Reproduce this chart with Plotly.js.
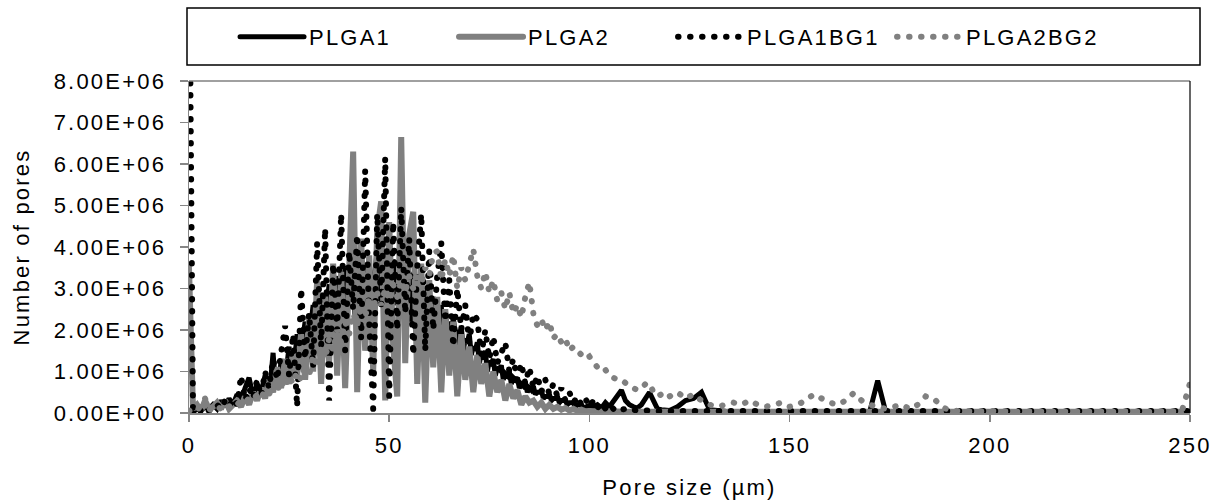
<!DOCTYPE html>
<html>
<head>
<meta charset="utf-8">
<script src="https://cdn.plot.ly/plotly-3.0.1.min.js"></script>
<style>
html,body{margin:0;padding:0;background:#fff;}
#chart{width:1216px;height:500px;}
path.js-line{stroke-linecap:round;}
svg text{letter-spacing:2.2px;}
</style>
</head>
<body>
<div id="chart"></div>
<script>
// Pore size (µm) for PLGA2, PLGA1BG1, PLGA2BG2
var poreSize = [
0,1,2,3,4,5,6,7,8,9,10,11,12,13,14,15,16,17,18,19,
20,21,22,23,24,25,26,27,28,29,30,31,32,33,34,35,36,37,38,39,
40,41,42,43,44,45,46,47,48,49,50,51,52,53,54,55,56,57,58,59,
60,61,62,63,64,65,66,67,68,69,70,71,72,73,74,75,76,77,78,79,
80,81,82,83,84,85,86,87,88,89,90,91,92,93,94,95,96,97,98,99,
100,101,102,103,104,105,106,107,108,109,110,111,112,113,114,115,116,117,118,119,120,
122,124,126,128,130,132,134,136,138,140,142,144,146,148,150,152,154,156,158,160,
162,164,166,168,170,172,174,176,178,180,182,184,186,188,190,192,194,196,198,200,
202,204,206,208,210,212,214,216,218,220,222,224,226,228,230,232,234,236,238,240,
242,244,246,248,250];

// Pore size (µm) for PLGA1 (finer sampling in the main peak)
var poreSizePlga1 = [
0,1,2,3,4,5,6,7,8,9,10,11,12,13,14,15,16,17,18,19,20,
20.5,21,21.5,22,22.5,23,23.5,24,24.5,25,
25.5,26,26.5,27,27.5,28,28.5,29,29.5,30,
30.5,31,31.5,32,32.5,33,33.5,34,34.5,35,
35.5,36,36.5,37,37.5,38,38.5,39,39.5,40,
40.5,41,41.5,42,42.5,43,43.5,44,44.5,45,
45.5,46,46.5,47,47.5,48,48.5,49,49.5,50,
50.5,51,51.5,52,52.5,53,53.5,54,54.5,55,
55.5,56,56.5,57,57.5,58,58.5,59,59.5,60,
60.5,61,61.5,62,62.5,63,63.5,64,64.5,65,
65.5,66,66.5,67,67.5,68,68.5,69,69.5,70,
70.5,71,71.5,72,72.5,73,73.5,74,74.5,75,
75.5,76,76.5,77,77.5,78,78.5,79,79.5,80,
80.5,81,81.5,82,82.5,83,83.5,84,84.5,85,
85.5,86,86.5,87,87.5,88,88.5,89,89.5,90,
90.5,91,91.5,92,92.5,93,93.5,94,94.5,95,
95.5,96,96.5,97,97.5,98,98.5,99,99.5,100,
101,102,103,104,105,106,107,108,109,110,111,112,113,114,115,116,117,118,119,120,
122,124,126,128,130,132,134,136,138,140,142,144,146,148,150,152,154,156,158,160,
162,164,166,168,170,172,174,176,178,180,182,184,186,188,190,192,194,196,198,200,
202,204,206,208,210,212,214,216,218,220,222,224,226,228,230,232,234,236,238,240,
242,244,246,248,250];

// Number of pores (millions)
var plga1 = [
0.05,0.02,0.1,0.05,0.15,0.1,0.2,0.1,0.3,0.15,0.35,0.2,0.45,0.3,0.6,0.85,0.4,0.7,0.5,0.9,0.7,
0.9,1.45,0.8,1.1,0.7,1.3,0.9,1.0,1.2,1.6,
0.9,1.2,1.4,1.9,1.1,1.5,1.8,2.2,1.3,1.7,
2.1,2.6,1.5,2.0,2.4,2.9,1.8,2.3,2.7,3.1,
2.0,2.5,3.0,3.3,2.1,2.6,3.2,3.5,2.4,2.8,
3.3,3.6,2.2,2.9,3.4,3.8,2.5,3.0,3.5,3.7,
2.6,3.1,3.6,3.9,2.7,3.2,3.5,3.8,2.4,3.0,
3.4,3.7,2.6,3.1,3.3,3.5,2.3,2.9,3.1,3.4,
2.2,2.8,3.0,3.2,2.0,2.6,2.7,3.0,2.1,2.6,
2.3,2.8,1.9,2.4,2.2,2.6,1.8,2.5,2.0,2.2,
1.7,2.3,1.9,2.0,1.6,2.1,1.5,1.8,1.7,1.9,
1.4,1.6,1.5,1.7,1.2,1.4,1.3,1.5,1.0,1.25,
1.2,1.3,0.9,1.1,1.05,1.15,0.8,0.95,0.9,1.0,
0.7,0.85,0.8,0.85,0.6,0.7,0.65,0.75,0.5,0.6,
0.55,0.65,0.45,0.5,0.5,0.55,0.35,0.4,0.4,0.45,
0.3,0.35,0.35,0.4,0.25,0.3,0.3,0.3,0.2,0.25,
0.25,0.25,0.15,0.2,0.2,0.2,0.12,0.15,0.15,0.18,
0.15,0.2,0.12,0.25,0.15,0.3,0.45,0.55,0.3,0.2,0.15,0.12,0.2,0.35,0.5,0.3,0.1,0.08,0.06,0.06,
0.15,0.3,0.35,0.5,0.08,0.05,0.04,0.03,0.03,0.03,
0.02,0.02,0.03,0.02,0.02,0.02,0.02,0.02,0.02,0.02,
0.02,0.02,0.02,0.02,0.03,0.78,0.03,0.02,0.02,0.02,
0.02,0.02,0.02,0.02,0.02,0.02,0.02,0.02,0.02,0.02,
0.02,0.02,0.02,0.02,0.02,0.02,0.02,0.02,0.02,0.02,
0.02,0.02,0.02,0.02,0.02,0.02,0.02,0.02,0.02,0.02,
0.02,0.02,0.02,0.02,0.02];

var plga2 = [
3.5,0.1,0.2,0.05,0.3,0.1,0.15,0.25,0.1,0.3,
0.1,0.2,0.3,0.15,0.4,0.2,0.5,0.3,0.6,0.35,
0.8,0.5,1.1,0.6,1.3,0.7,1.5,0.9,1.9,0.8,
2.3,1.0,3.2,0.7,2.8,1.2,3.6,0.9,3.4,0.6,
3.9,6.3,0.5,4.2,1.5,3.8,1.0,4.4,5.1,0.3,
4.6,1.6,0.4,6.65,1.2,4.3,4.85,0.7,3.6,0.25,
3.2,1.1,2.8,0.5,2.5,0.9,2.2,0.4,1.9,0.8,
1.6,0.5,1.4,0.7,1.2,0.4,1.0,0.5,0.8,0.3,
0.7,0.35,0.55,0.2,0.4,0.25,0.3,0.15,0.25,0.1,
0.2,0.1,0.15,0.08,0.12,0.06,0.1,0.05,0.08,0.04,
0.05,0.04,0.03,0.04,0.03,0.04,0.03,0.04,0.03,0.03,
0.03,0.03,0.03,0.03,0.03,0.03,0.03,0.03,0.03,0.03,
0.03,
0.03,0.03,0.03,0.03,0.03,0.03,0.03,0.03,0.03,0.03,
0.03,0.03,0.03,0.03,0.03,0.03,0.03,0.03,0.03,0.03,
0.03,0.03,0.03,0.03,0.03,0.03,0.03,0.03,0.03,0.03,
0.03,0.03,0.03,0.03,0.03,0.03,0.03,0.03,0.03,0.03,
0.03,0.03,0.03,0.03,0.03,0.03,0.03,0.03,0.03,0.03,
0.03,0.03,0.03,0.03,0.03,0.03,0.03,0.03,0.03,0.03,
0.03,0.03,0.03,0.03,0.03];

var plga1bg1 = [
12,0.05,0.1,0.05,0.15,0.05,0.1,0.2,0.1,0.3,
0.15,0.35,0.2,0.9,0.3,0.6,0.35,0.8,0.4,1.0,
0.6,1.3,0.8,1.6,2.1,0.9,1.9,0.15,3.0,1.3,
2.4,1.1,4.1,1.6,4.45,0.3,3.6,2.0,4.8,1.5,
3.9,2.5,4.3,1.8,5.85,2.2,0.1,4.8,2.6,6.15,
0.4,4.6,2.0,4.95,2.4,4.2,1.4,3.5,4.8,1.5,
3.9,2.0,3.3,4.1,2.2,3.2,1.6,3.0,2.0,2.6,
1.7,2.4,2.25,1.4,2.0,1.3,1.85,1.2,1.5,1.7,
1.0,1.3,0.8,1.2,0.7,1.1,0.6,0.9,0.5,0.8,
0.45,0.7,0.4,0.6,0.3,0.5,0.25,0.4,0.2,0.35,
0.15,0.3,0.12,0.25,0.1,0.2,0.1,0.15,0.08,0.1,
0.06,0.08,0.05,0.06,0.05,0.06,0.05,0.05,0.05,0.05,
0.05,
0.08,0.08,0.08,0.08,0.08,0.05,0.05,0.05,0.05,0.05,
0.05,0.05,0.05,0.05,0.05,0.05,0.05,0.05,0.05,0.05,
0.05,0.05,0.05,0.05,0.05,0.05,0.05,0.05,0.05,0.05,
0.05,0.05,0.05,0.05,0.05,0.05,0.05,0.05,0.05,0.05,
0.05,0.05,0.05,0.05,0.05,0.05,0.05,0.05,0.05,0.05,
0.05,0.05,0.05,0.05,0.05,0.05,0.05,0.05,0.05,0.05,
0.05,0.05,0.05,0.05,0.05];

var plga2bg2 = [
0.05,0.1,0.05,0.2,0.35,0.1,0.05,0.15,0.1,0.2,
0.15,0.25,0.2,0.3,0.25,0.35,0.3,0.45,0.35,0.55,
0.45,0.7,0.5,0.8,0.6,0.9,0.7,1.0,0.8,1.2,
0.9,1.4,1.1,1.6,1.3,1.8,1.5,2.0,1.7,2.2,
1.9,2.4,2.1,2.6,2.3,2.8,2.5,2.9,2.6,3.0,
2.7,3.1,2.8,3.2,2.9,3.3,3.0,3.4,3.1,3.5,
3.3,3.85,3.9,3.2,3.7,3.3,3.8,3.0,3.5,3.2,
3.6,3.95,3.3,3.0,3.4,2.9,3.2,2.7,2.9,2.5,
2.9,2.4,2.6,2.3,2.8,3.15,2.4,2.1,2.25,2.0,
2.2,1.8,1.9,1.7,1.8,1.5,1.6,1.5,1.4,1.3,
1.36,1.2,1.1,1.0,1.04,0.9,0.85,0.8,0.8,0.7,
0.65,0.6,0.55,0.6,0.7,0.72,0.5,0.4,0.45,0.35,
0.4,
0.5,0.35,0.45,0.3,0.2,0.15,0.2,0.25,0.2,0.3,
0.2,0.15,0.2,0.25,0.15,0.2,0.3,0.45,0.35,0.25,
0.2,0.3,0.48,0.3,0.2,0.15,0.1,0.15,0.2,0.1,
0.2,0.4,0.35,0.15,0.06,0.05,0.04,0.05,0.04,0.05,
0.04,0.03,0.04,0.03,0.04,0.03,0.04,0.03,0.04,0.03,
0.04,0.03,0.04,0.03,0.04,0.03,0.04,0.03,0.04,0.03,
0.04,0.03,0.04,0.05,0.72];

var seriesNames = ['PLGA1','PLGA2','PLGA1BG1','PLGA2BG2'];
var yTickVals = [0,1,2,3,4,5,6,7,8];
var yTickText = ['0.00E+00','1.00E+06','2.00E+06','3.00E+06','4.00E+06','5.00E+06','6.00E+06','7.00E+06','8.00E+06'];
var xTickVals = [0,50,100,150,200,250];

var M = 1e6;
function scale(a){ return a.map(function(v){ return v*M; }); }

var FONT = 'Liberation Sans, Arial, sans-serif';
var traces = [
  {x: poreSizePlga1, y: scale(plga1), name: seriesNames[0], mode:'lines',
   line:{color:'#000000', width:5}},
  {x: poreSize, y: scale(plga2), name: seriesNames[1], mode:'lines',
   line:{color:'#808080', width:6}},
  {x: poreSize, y: scale(plga1bg1), name: seriesNames[2], mode:'lines',
   line:{color:'#000000', width:6, dash:'0.5px,11.5px'}},
  {x: poreSize, y: scale(plga2bg2), name: seriesNames[3], mode:'lines',
   line:{color:'#808080', width:6, dash:'0.5px,11.5px'}}
];

var layout = {
  width:1216, height:500,
  margin:{l:189, r:26, t:81, b:87, pad:0, autoexpand:false},
  paper_bgcolor:'#ffffff', plot_bgcolor:'#ffffff',
  font:{family:FONT, size:22, color:'#000000'},
  showlegend:true,
  legend:{orientation:'h', x:0.046, xanchor:'left', y:1.1325, yanchor:'middle',
          font:{family:FONT, size:22, color:'#000000'},
          entrywidth:140, entrywidthmode:'pixels', itemwidth:64,
          borderwidth:0, bgcolor:'rgba(0,0,0,0)'},
  xaxis:{range:[0,250], tickvals:xTickVals, ticks:'outside', ticklen:7, tickwidth:1.5,
         tickcolor:'#868686', showline:true, linecolor:'#868686', linewidth:1.5,
         showgrid:false, zeroline:false, tickfont:{size:22}, ticklabelstandoff:5,
         title:{text:'Pore size (µm)', font:{size:22}, standoff:24}},
  yaxis:{range:[0,8e6], tickvals:scale(yTickVals), ticktext:yTickText, ticks:'outside',
         ticklen:8, tickwidth:1.5, tickcolor:'#868686', showline:true, linecolor:'#868686',
         linewidth:1.5, showgrid:false, zeroline:false, tickfont:{size:22}, ticklabelstandoff:9,
         title:{text:'Number of pores', font:{size:22}, standoff:18}},
  shapes:[
    {type:'rect', xref:'paper', yref:'paper', x0:-0.002, x1:1.010, y0:1.048, y1:1.22,
     line:{color:'#000000', width:1.5}, fillcolor:'rgba(0,0,0,0)'},
    {type:'line', xref:'paper', yref:'paper', x0:0, x1:1, y0:1, y1:1,
     line:{color:'#808080', width:1.5}},
    {type:'line', xref:'paper', yref:'paper', x0:1, x1:1, y0:0, y1:1,
     line:{color:'#000000', width:1.2}}
  ]
};

Plotly.newPlot('chart', traces, layout, {displayModeBar:false, staticPlot:true});
</script>
</body>
</html>
